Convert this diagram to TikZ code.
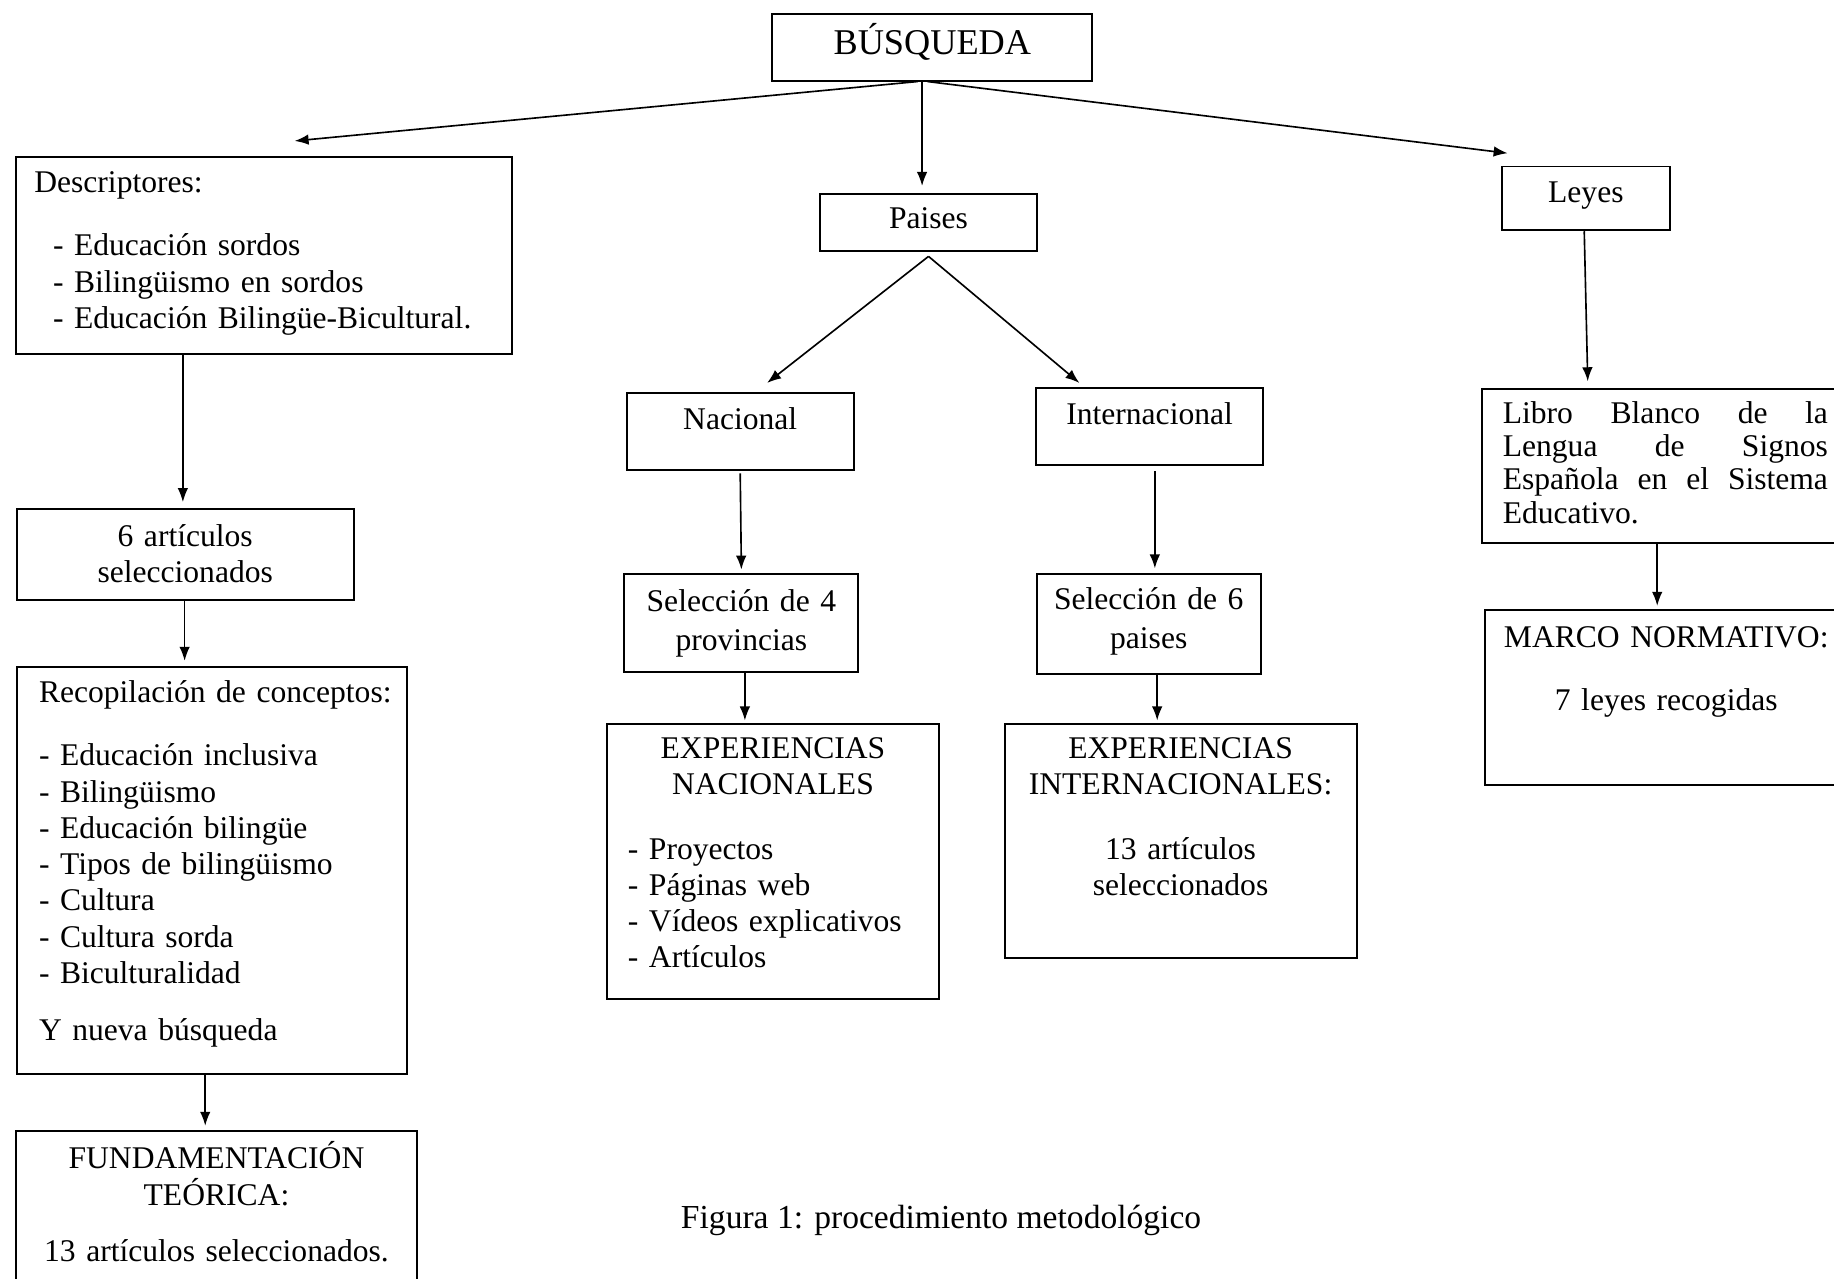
\documentclass[tikz,border=0pt]{standalone}
\usepackage{fontspec}
\setmainfont{Liberation Serif}
\usepackage{tikz}
\usetikzlibrary{arrows.meta}

\begin{document}
\begin{tikzpicture}[x=1pt, y=-1pt,
  caja/.style={draw, line width=1.7pt, anchor=north west, inner xsep=4pt, inner ysep=0pt,
    font=\fontsize{27}{31}\selectfont},
  flecha/.style={-{Latex[length=12pt, width=9pt]}, line width=1.4pt}]
  % Fix the frame
  \useasboundingbox (0,0) rectangle (1568,1093);
  \clip (0,0) rectangle (1568,1093);

  % Draw top box
  \node[caja, align=center, text width=265.5pt, text height=34pt, text depth=22.5pt,
    font=\fontsize{31}{36}\selectfont] (busq) at (659.5,11.5) {BÚSQUEDA};

  % Draw left column
  \node[caja, inner xsep=0pt, text width=424pt, text height=30.5pt, text depth=138pt] (desc) at (13,133.5)
    {\leftskip=15.5pt\relax Descriptores:\\[23pt]
     \hspace*{16pt}- Educación sordos\\
     \hspace*{16pt}- Bilingüismo en sordos\\
     \hspace*{16pt}- Educación Bilingüe-Bicultural.\par};
  \node[caja, align=center, text width=280pt, text height=32pt, text depth=46pt] (art6) at (13.5,434)
    {6 artículos\\seleccionados};
  \node[caja, inner xsep=0pt, text width=333.5pt, text height=31pt, text depth=317pt] (recop) at (13.5,569)
    {\leftskip=19pt\relax Recopilación de conceptos:\\[23pt]
     - Educación inclusiva\\
     - Bilingüismo\\
     - Educación bilingüe\\
     - Tipos de bilingüismo\\
     - Cultura\\
     - Cultura sorda\\
     - Biculturalidad\\[17.5pt]
     Y nueva búsqueda\par};
  \node[caja, align=center, text width=335.5pt, text height=32.5pt, text depth=117.5pt] (fund) at (12.5,966)
    {FUNDAMENTACIÓN\\TEÓRICA:\\[17pt]13 artículos seleccionados.};

  % Draw middle columns
  \node[caja, align=center, text width=178pt, text height=29.5pt, text depth=19pt] (paises) at (700,165) {Paises};
  \node[caja, align=center, text width=186pt, text height=31pt, text depth=35pt] (nac) at (535,335) {Nacional};
  \node[caja, align=center, text width=186pt, text height=31pt, text depth=35pt] (inter) at (885,331) {Internacional};
  \node[caja, align=center, text width=192pt, text height=32pt, text depth=52pt] (sel4) at (533,490)
    {Selección de 4\\[2pt]provincias};
  \node[caja, align=center, text width=183.5pt, text height=30.5pt, text depth=55pt] (sel6) at (885.5,490)
    {Selección de 6\\[2pt]paises};
  \node[caja, inner xsep=0pt, text width=284pt, text height=29.7pt, text depth=205.3pt] (expnac) at (518,618)
    {{\centering EXPERIENCIAS\\NACIONALES\par}\vspace{24pt}
     \leftskip=18pt\relax - Proyectos\\
     - Páginas web\\
     - Vídeos explicativos\\
     - Artículos\par};
  \node[caja, align=center, text width=293pt, text height=29.7pt, text depth=170.6pt] (expint) at (858,618)
    {EXPERIENCIAS\\INTERNACIONALES:\\[24pt]13 artículos\\seleccionados};

  % Draw right column
  \node[caja, align=center, text width=136pt, text height=30.5pt, text depth=24pt] (leyes) at (1283,141.5) {Leyes};
  \node[caja, inner xsep=17.5pt, align=justify, text width=278pt, text height=29.5pt, text depth=102pt,
    font=\fontsize{27}{28.5}\selectfont] (libro) at (1266.5,331.5)
    {Libro Blanco de la\linebreak Lengua de Signos\linebreak Española en el Sistema\linebreak Educativo.};
  \node[caja, align=center, text width=302.5pt, text height=32pt, text depth=117pt] (marco) at (1268.5,521)
    {MARCO NORMATIVO:\\[23pt]7 leyes recogidas};

  % Draw caption
  \node[anchor=base west, inner sep=0pt, font=\fontsize{28.7}{33}\selectfont] (pie) at (582,1050)
    {Figura 1: procedimiento metodológico};

  % Draw arrows from BÚSQUEDA
  \draw[flecha] ([xshift=-12.5pt]busq.south) -- ([shift={(26,-13)}]desc.north);
  \draw[flecha] ([xshift=-8.75pt]busq.south) -- ([xshift=-5.5pt, yshift=6pt]paises.north);
  \draw[flecha] ([xshift=-4.25pt]busq.south) -- ([shift={(6,-10.5)}]leyes.north west);

  % Draw arrows of the left column
  \draw[flecha] ([xshift=-69.5pt]desc.south) -- ([xshift=-2pt, yshift=4.7pt]art6.north);
  \draw[flecha] ([xshift=-0.5pt]art6.south) -- ([xshift=-23.25pt, yshift=4pt]recop.north);
  \draw[flecha] ([xshift=-5.65pt]recop.south) -- ([xshift=-9.65pt, yshift=3.5pt]fund.north);

  % Draw arrows of the middle columns
  \coordinate (vertice) at ([yshift=-4pt]paises.south);
  \draw[flecha] (vertice) -- ([shift={(23,-7.6)}]nac.north);
  \draw[flecha] (vertice) -- ([shift={(-60,-3.6)}]inter.north);
  \draw[flecha] ([yshift=-2pt]nac.south) -- ([yshift=3pt]sel4.north);
  \draw[flecha] ([xshift=3pt]sel4.south) -- ([xshift=-24pt, yshift=2pt]expnac.north);
  \draw[flecha] ([xshift=4.5pt, yshift=-4pt]inter.south) -- ([xshift=5.25pt, yshift=4pt]sel6.north);
  \draw[flecha] ([xshift=7.25pt]sel6.south) -- ([xshift=-20pt, yshift=2pt]expint.north);

  % Draw arrows of the right column
  \draw[flecha] ([xshift=-1.4pt]leyes.south) -- ([xshift=-66.4pt, yshift=5.5pt]libro.north);
  \draw[flecha] ([xshift=-7pt]libro.south) -- ([xshift=-7.75pt, yshift=3pt]marco.north);
\end{tikzpicture}
\end{document}
